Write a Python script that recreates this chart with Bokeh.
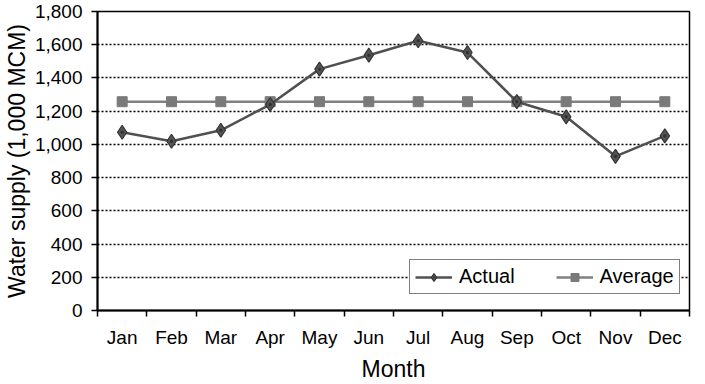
from bokeh.plotting import figure
from bokeh.models import FixedTicker, Range1d, Legend, LegendItem, ColumnDataSource
from bokeh.embed import file_html
from bokeh.resources import INLINE

months = ["Jan", "Feb", "Mar", "Apr", "May", "Jun", "Jul", "Aug", "Sep", "Oct", "Nov", "Dec"]
actual = [1073, 1019, 1085, 1240, 1453, 1537, 1624, 1553, 1257, 1166, 928, 1051]
average = [1257] * 12
y_ticks = [0, 200, 400, 600, 800, 1000, 1200, 1400, 1600, 1800]

xpos = [i + 0.5 for i in range(len(months))]
src = ColumnDataSource(dict(x=xpos, actual=actual, average=average))

FONT = "Liberation Sans"

p = figure(width=692, height=384, output_backend="svg", toolbar_location=None,
           x_range=Range1d(0, 12), y_range=Range1d(0, 1800),
           min_border_left=88, min_border_right=3, min_border_top=11, min_border_bottom=73)
p.background_fill_color = "white"
p.border_fill_color = "white"
p.outline_line_color = "black"
p.outline_line_width = 1.5

# x axis: labels at centres, tick marks at category boundaries
xt = FixedTicker(ticks=xpos, minor_ticks=list(range(13)))
p.xaxis.ticker = xt
p.xaxis.major_label_overrides = {x: m for x, m in zip(xpos, months)}
p.xaxis.major_tick_line_color = None
p.xaxis.minor_tick_line_color = "black"
p.xaxis.minor_tick_line_width = 1.5
p.xaxis.minor_tick_out = 6
p.xaxis.minor_tick_in = 0
p.xaxis.axis_line_width = 2
p.xaxis.axis_line_color = "black"
p.xaxis.major_label_text_font = FONT
p.xaxis.major_label_text_font_size = "19px"
p.xaxis.major_label_text_color = "black"
p.xaxis.major_label_standoff = 10
p.xaxis.axis_label = "Month"
p.xaxis.axis_label_text_font = FONT
p.xaxis.axis_label_text_font_size = "23px"
p.xaxis.axis_label_text_font_style = "normal"
p.xaxis.axis_label_text_color = "black"
p.xaxis.axis_label_standoff = 5

p.yaxis.ticker = FixedTicker(ticks=y_ticks)
p.yaxis.major_label_overrides = {v: f"{v:,}" for v in y_ticks}
p.yaxis.minor_tick_line_color = None
p.yaxis.major_tick_out = 6
p.yaxis.major_tick_in = 0
p.yaxis.major_tick_line_width = 1.5
p.yaxis.axis_line_width = 2
p.yaxis.axis_line_color = "black"
p.yaxis.major_label_text_font = FONT
p.yaxis.major_label_text_font_size = "19px"
p.yaxis.major_label_text_color = "black"
p.yaxis.major_label_standoff = 9
p.yaxis.axis_label = "Water supply (1,000 MCM)"
p.yaxis.axis_label_text_font = FONT
p.yaxis.axis_label_text_font_size = "23px"
p.yaxis.axis_label_text_font_style = "normal"
p.yaxis.axis_label_text_color = "black"
p.yaxis.axis_label_standoff = 2

p.xgrid.grid_line_color = None
p.ygrid.grid_line_color = "black"
p.ygrid.grid_line_dash = "2 2"
p.ygrid.grid_line_width = 1.5

l_avg = p.line("x", "average", source=src, line_color="#808080", line_width=2.5)
m_avg = p.scatter("x", "average", source=src, marker="square", size=10,
                  fill_color="#7a7a7a", line_color="#7a7a7a")
l_act = p.line("x", "actual", source=src, line_color="#505050", line_width=2.5)
m_act = p.scatter("x", "actual", source=src, marker="diamond_dot", size=14,
                  fill_color="#555555", line_color="#333333", line_width=1.2)

legend = Legend(items=[LegendItem(label="Actual", renderers=[l_act, m_act]),
                       LegendItem(label="Average", renderers=[l_avg, m_avg])],
                orientation="horizontal", location=(312, 16))
legend.label_text_font = FONT
legend.label_text_font_size = "20px"
legend.label_text_color = "black"
legend.glyph_width = 37
legend.glyph_height = 20
legend.label_height = 20
legend.label_standoff = 7
legend.spacing = 41
legend.padding = 5
legend.margin = 0
legend.border_line_color = "black"
legend.border_line_width = 1.5
legend.background_fill_color = "white"
legend.background_fill_alpha = 1.0
p.add_layout(legend, "center")

open("out.html", "w").write(file_html(p, INLINE))
